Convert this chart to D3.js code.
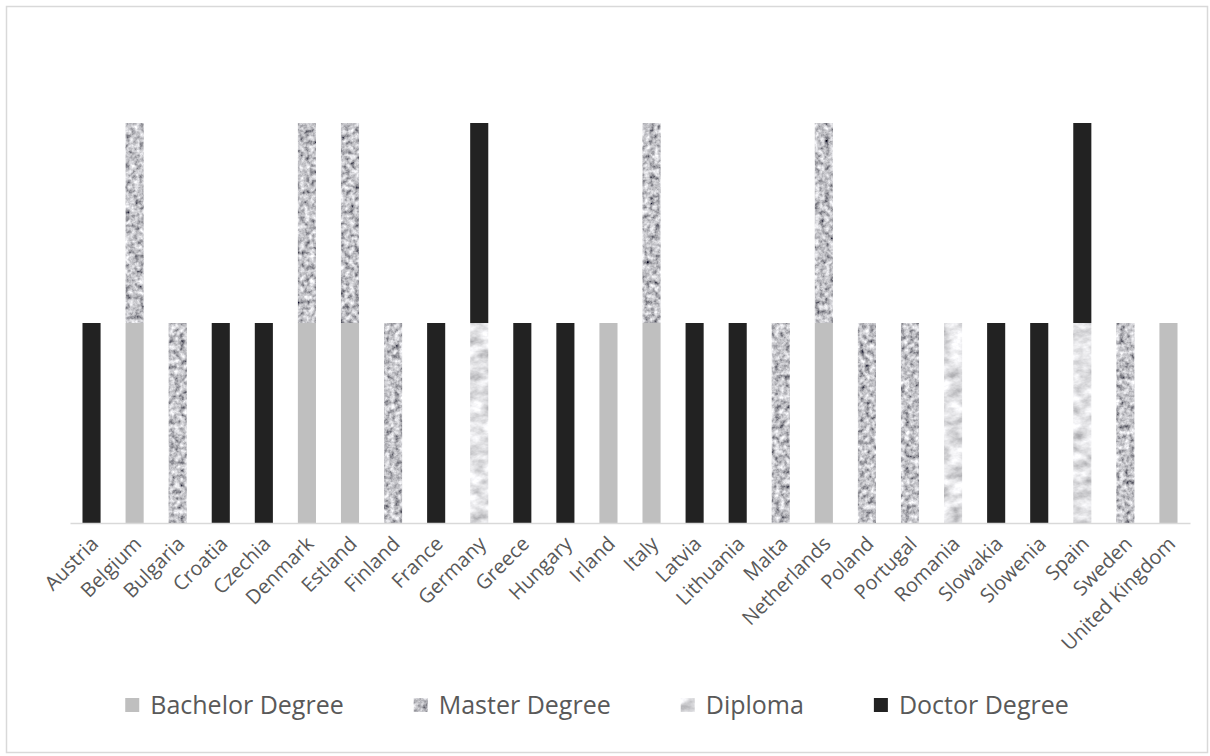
<!DOCTYPE html>
<html>
<head>
    <title>Degrees by country</title>
    <script src="https://d3js.org/d3.v7.min.js"></script>
    <style type="text/css">
        body { margin: 0; background: #fff; }
        .axis path, .axis line { fill: none; stroke: #d9d9d9; stroke-width: 1.5px; }
        .axis text { font-family: "Open Sans", sans-serif; font-size: 20px; fill: #595959; }
        .legend text { font-family: "Open Sans", sans-serif; font-size: 25px; fill: #595959; }
    </style>
</head>
<body>
<script>
    var w = 1210;
    var h = 756;

    var countries = ["Austria", "Belgium", "Bulgaria", "Croatia", "Czechia", "Denmark", "Estland",
        "Finland", "France", "Germany", "Greece", "Hungary", "Irland", "Italy", "Latvia", "Lithuania",
        "Malta", "Netherlands", "Poland", "Portugal", "Romania", "Slowakia", "Slowenia", "Spain",
        "Sweden", "United Kingdom"];
    var seriesNames = ["Bachelor Degree", "Master Degree", "Diploma", "Doctor Degree"];
    var bachelor = [0, 1, 0, 0, 0, 1, 1, 0, 0, 0, 0, 0, 1, 1, 0, 0, 0, 1, 0, 0, 0, 0, 0, 0, 0, 1];
    var master   = [0, 1, 1, 0, 0, 1, 1, 1, 0, 0, 0, 0, 0, 1, 0, 0, 1, 1, 1, 1, 0, 0, 0, 0, 1, 0];
    var diploma  = [0, 0, 0, 0, 0, 0, 0, 0, 0, 1, 0, 0, 0, 0, 0, 0, 0, 0, 0, 0, 1, 0, 0, 1, 0, 0];
    var doctor   = [1, 0, 0, 1, 1, 0, 0, 0, 1, 1, 1, 1, 0, 0, 1, 1, 0, 0, 0, 0, 0, 1, 1, 1, 0, 0];

    var rows = countries.map(function(c, i) {
        return {country: c, "Bachelor Degree": bachelor[i], "Master Degree": master[i],
                "Diploma": diploma[i], "Doctor Degree": doctor[i]};
    });

    var fills = {
        "Bachelor Degree": {fill: "#bfbfbf", filter: null},
        "Master Degree": {fill: "#999", filter: "url(#granite)"},
        "Diploma": {fill: "#e6e6e6", filter: "url(#marble)"},
        "Doctor Degree": {fill: "#222222", filter: null}
    };

    var svg = d3.select("body").append("svg")
        .attr("width", w)
        .attr("height", h);

    // textures for the two patterned series
    var defs = svg.append("defs");
    var granite = defs.append("filter").attr("id", "granite")
        .attr("x", 0).attr("y", 0).attr("width", 1).attr("height", 1);
    granite.append("feTurbulence").attr("type", "fractalNoise")
        .attr("baseFrequency", 0.2).attr("numOctaves", 3).attr("seed", 4).attr("result", "n");
    granite.append("feColorMatrix").attr("in", "n").attr("type", "matrix").attr("result", "g")
        .attr("values", "1.4 0 0 0 -0.16  1.4 0 0 0 -0.16  1.4 0 0 0 -0.13  0 0 0 0 1");
    granite.append("feComposite").attr("in", "g").attr("in2", "SourceGraphic").attr("operator", "in");

    var marble = defs.append("filter").attr("id", "marble")
        .attr("x", 0).attr("y", 0).attr("width", 1).attr("height", 1);
    marble.append("feTurbulence").attr("type", "fractalNoise")
        .attr("baseFrequency", "0.06 0.1").attr("numOctaves", 4).attr("seed", 9).attr("result", "n");
    marble.append("feColorMatrix").attr("in", "n").attr("type", "matrix").attr("result", "g")
        .attr("values", "1.0 0 0 0 0.25  1.0 0 0 0 0.25  1.0 0 0 0 0.27  0 0 0 0 1");
    marble.append("feComposite").attr("in", "g").attr("in2", "SourceGraphic").attr("operator", "in");

    // chart border
    svg.append("rect")
        .attr("x", 6.5).attr("y", 6.5)
        .attr("width", 1201).attr("height", 746)
        .attr("fill", "none")
        .attr("stroke", "#d9d9d9")
        .attr("stroke-width", 1.5);

    var xScale = d3.scaleBand()
        .domain(countries)
        .range([70, 1190])
        .paddingInner(0.58)
        .paddingOuter(0.29);
    var yScale = d3.scaleLinear()
        .domain([0, 2.5])
        .range([523, 23]);

    var stacked = d3.stack().keys(seriesNames)(rows);

    svg.selectAll("g.series")
        .data(stacked)
        .enter()
        .append("g")
        .attr("class", "series")
        .attr("fill", function(d) { return fills[d.key].fill; })
        .attr("filter", function(d) { return fills[d.key].filter; })
        .selectAll("rect")
        .data(function(d) { return d.filter(function(p) { return p[1] > p[0]; }); })
        .enter()
        .append("rect")
        .attr("x", function(d) { return xScale(d.data.country); })
        .attr("y", function(d) { return yScale(d[1]); })
        .attr("width", xScale.bandwidth())
        .attr("height", function(d) { return yScale(d[0]) - yScale(d[1]); });

    var xAxis = d3.axisBottom(xScale).tickSize(0).tickSizeOuter(0);
    var gx = svg.append("g")
        .attr("class", "axis")
        .attr("transform", "translate(0," + yScale(0) + ")")
        .call(xAxis);
    gx.selectAll("text")
        .attr("text-anchor", "end")
        .attr("dy", "0.35em")
        .attr("transform", "translate(1,15) rotate(-45)");

    // legend
    var legend = svg.append("g").attr("class", "legend");
    var items = legend.selectAll("g")
        .data(seriesNames)
        .enter()
        .append("g");
    items.append("rect")
        .attr("width", 14).attr("height", 14)
        .attr("y", -7)
        .attr("fill", function(d) { return fills[d].fill; })
        .attr("filter", function(d) { return fills[d].filter; });
    items.append("text")
        .attr("x", 25)
        .attr("dy", "0.35em")
        .text(function(d) { return d; });

    var xpos = 0;
    var offsets = [];
    items.each(function() {
        offsets.push(xpos);
        xpos += 25 + this.querySelector("text").getComputedTextLength() + 70;
    });
    var total = xpos - 70;
    var start = 597 - total / 2;
    items.attr("transform", function(d, i) { return "translate(" + (start + offsets[i]) + ",705)"; });
</script>
</body>
</html>
